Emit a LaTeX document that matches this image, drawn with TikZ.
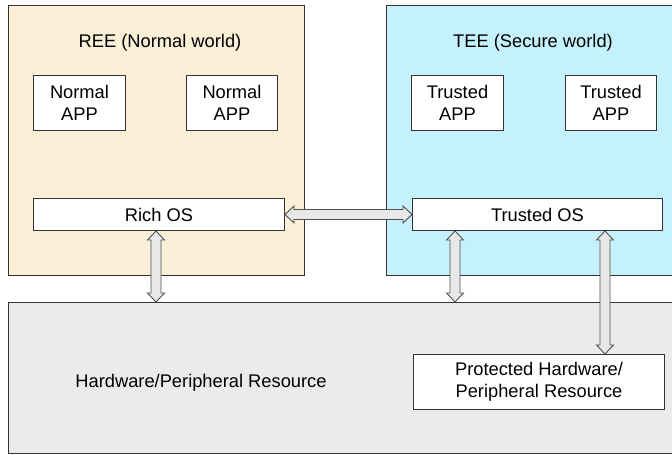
\documentclass[tikz,border=0pt]{standalone}
\usepackage{fontspec}
\setmainfont{Liberation Sans}
\usetikzlibrary{calc}

\definecolor{reefill}{HTML}{FBF0D7}
\definecolor{teefill}{HTML}{C5F1FD}
\definecolor{hwfill}{HTML}{EBEBEB}
\definecolor{edge}{HTML}{333333}
\definecolor{arrowfill}{HTML}{E8E8E8}
\definecolor{arrowedge}{HTML}{505050}

\tikzset{
  world/.style={draw=edge, line width=1pt, anchor=north west, inner sep=0pt},
  box/.style={draw=edge, line width=1pt, fill=white, anchor=north west, inner sep=0pt,
              align=center, font=\fontsize{18.3}{22}\selectfont},
  label/.style={font=\fontsize{18.3}{22}\selectfont, inner sep=0pt},
  blockarrow/.style={draw=arrowedge, fill=arrowfill, line width=0.9pt, line join=miter},
}

% vertical double block arrow: x and top y from #1, bottom y from #2
\newcommand\vblock[2]{%
  \path[blockarrow] let \p1=#1, \p2=#2 in
    (\x1,\y1) -- (\x1+8.5pt,\y1-9pt) -- (\x1+5pt,\y1-9pt) -- (\x1+5pt,\y2+9pt)
    -- (\x1+8.5pt,\y2+9pt) -- (\x1,\y2) -- (\x1-8.5pt,\y2+9pt) -- (\x1-5pt,\y2+9pt)
    -- (\x1-5pt,\y1-9pt) -- (\x1-8.5pt,\y1-9pt) -- cycle;}
% horizontal double block arrow: left x and y from #1, right x from #2
\newcommand\hblock[2]{%
  \path[blockarrow] let \p1=#1, \p2=#2 in
    (\x1,\y1) -- (\x1+9pt,\y1+8.5pt) -- (\x1+9pt,\y1+5pt) -- (\x2-9pt,\y1+5pt)
    -- (\x2-9pt,\y1+8.5pt) -- (\x2,\y1) -- (\x2-9pt,\y1-8.5pt) -- (\x2-9pt,\y1-5pt)
    -- (\x1+9pt,\y1-5pt) -- (\x1+9pt,\y1-8.5pt) -- cycle;}

\begin{document}
\begin{tikzpicture}[x=1pt,y=-1pt]
  \useasboundingbox (0,0) rectangle (672,455);
  \clip (0,0) rectangle (672,455);

  % the two worlds and the shared hardware
  \node[world, fill=reefill, minimum width=296pt, minimum height=270pt] (ree) at (8,5) {};
  \node[world, fill=teefill, minimum width=300pt, minimum height=270pt] (tee) at (386,5) {};
  \node[world, fill=hwfill, minimum width=680pt, minimum height=151pt] (hw) at (8,302) {};

  \node[label] (reelbl) at (160,42.5) {REE (Normal world)};
  \node[label] (teelbl) at (533,42.5) {TEE (Secure world)};
  \node[label] (hwlbl) at (201,382.5) {Hardware/Peripheral Resource};

  % applications
  \node[box, minimum width=92pt, minimum height=55pt] (napp1) at (33,75) {Normal\\APP};
  \node[box, minimum width=91pt, minimum height=55pt] (napp2) at (186,75) {Normal\\APP};
  \node[box, minimum width=92pt, minimum height=55pt] (tapp1) at (411,75) {Trusted\\APP};
  \node[box, minimum width=91pt, minimum height=55pt] (tapp2) at (565,75) {Trusted\\APP};

  % operating systems
  \node[box, minimum width=251pt, minimum height=32pt] (rich) at (33,198) {Rich OS};
  \node[box, minimum width=250pt, minimum height=32pt] (trusted) at (412,198) {Trusted OS};

  % protected resource
  \node[box, minimum width=251pt, minimum height=55pt] (prot) at (413,354)
    {Protected Hardware/\\Peripheral Resource};

  % connectors
  \hblock{(rich.east)}{(trusted.west)}
  \vblock{([xshift=-3pt]rich.south)}{(hw.north)}
  \vblock{([xshift=43pt]trusted.south west)}{(hw.north)}
  \vblock{([xshift=193pt]trusted.south west)}{(prot.north)}
\end{tikzpicture}
\end{document}
